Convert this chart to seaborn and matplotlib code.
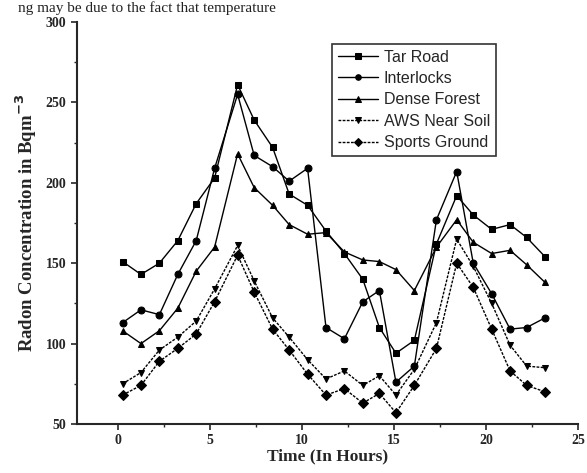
import pandas as pd
import matplotlib.pyplot as plt
import seaborn as sns

# === DATA ===
hours = [0.25, 1.25, 2.25, 3.25, 4.25, 5.25, 6.5, 7.4, 8.4, 9.3, 10.3, 11.3,
         12.3, 13.3, 14.2, 15.1, 16.1, 17.3, 18.4, 19.3, 20.3, 21.3, 22.2, 23.2]

tar_road = [151, 143, 150, 164, 187, 203, 261, 239, 222, 193, 186, 170,
            156, 140, 110, 94, 102, 162, 192, 180, 171, 174, 166, 154]
interlocks = [113, 121, 118, 143, 164, 209, 255, 217, 210, 201, 209, 110,
              103, 126, 133, 76, 86, 177, 207, 150, 131, 109, 110, 116]
dense_forest = [108, 100, 108, 122, 145, 160, 218, 197, 186, 174, 168, 169,
                157, 152, 151, 146, 133, 160, 177, 163, 156, 158, 149, 138]
aws_near_soil = [75, 82, 96, 104, 114, 134, 161, 139, 116, 104, 90, 78,
                 83, 74, 80, 68, 84, 113, 165, 148, 125, 99, 86, 85]
sports_ground = [68, 74, 89, 97, 106, 126, 155, 132, 109, 96, 81, 68,
                 72, 63, 69, 57, 74, 97, 150, 135, 109, 83, 74, 70]

sites = ['Tar Road', 'Interlocks', 'Dense Forest', 'AWS Near Soil', 'Sports Ground']

df = pd.DataFrame({
    'Time': hours,
    'Tar Road': tar_road,
    'Interlocks': interlocks,
    'Dense Forest': dense_forest,
    'AWS Near Soil': aws_near_soil,
    'Sports Ground': sports_ground,
})
df_long = df.melt(id_vars='Time', var_name='Site', value_name='Radon')

# === PLOT ===
sns.set_style('ticks')
plt.rcParams['font.family'] = ['Liberation Serif', 'DejaVu Serif']

fig = plt.figure(figsize=(5.87, 4.73), dpi=100)
ax = fig.add_axes([0.131, 0.1036, 0.854, 0.85])

markers = {'Tar Road': 's', 'Interlocks': 'o', 'Dense Forest': '^',
           'AWS Near Soil': 'v', 'Sports Ground': 'D'}
dashes = {'Tar Road': '', 'Interlocks': '', 'Dense Forest': '',
          'AWS Near Soil': (2, 1), 'Sports Ground': (2, 1)}

sns.lineplot(
    data=df_long, x='Time', y='Radon', hue='Site', style='Site',
    hue_order=sites, style_order=sites,
    palette=['black'] * 5, markers=markers, dashes=dashes,
    linewidth=1, markersize=5, markeredgecolor='black', ax=ax
)

ax.set_xlim(-2.23, 25)
ax.set_ylim(50, 300)
ax.set_xticks([0, 5, 10, 15, 20, 25])
ax.set_xticks([2.5, 7.5, 12.5, 17.5, 22.5], minor=True)
ax.set_yticks([50, 100, 150, 200, 250, 300])
ax.set_yticks([75, 125, 175, 225, 275], minor=True)
ax.tick_params(which='major', direction='out', length=4, width=1.2, labelsize=10)
ax.tick_params(which='minor', direction='out', length=2.5, width=1)
for lab in ax.get_xticklabels() + ax.get_yticklabels():
    lab.set_fontweight('bold')
for side in ['left', 'bottom']:
    ax.spines[side].set_linewidth(1.5)
sns.despine(ax=ax)

ax.set_xlabel('Time (In Hours)', fontsize=12.5, fontweight='bold', labelpad=1)
ax.set_ylabel(r'Radon Concentration in Bqm$^{\mathbf{-3}}$', fontsize=13.5,
              fontweight='bold', labelpad=5)

leg = ax.legend(loc='upper left', bbox_to_anchor=(0.493, 0.965), frameon=True,
                fancybox=False, edgecolor='black', handlelength=2.5,
                borderpad=0.35, labelspacing=0.4, handletextpad=0.4,
                markerscale=0.8,
                prop={'family': 'Liberation Sans', 'size': 11.5})
leg.get_frame().set_linewidth(1.2)

# text of the page above the chart
fig.text(0.03, 0.998, 'ng may be due to the fact that temperature', fontsize=11,
         va='top', ha='left', family='Liberation Serif', color='#222222')

fig.savefig('out.png', dpi=100)
